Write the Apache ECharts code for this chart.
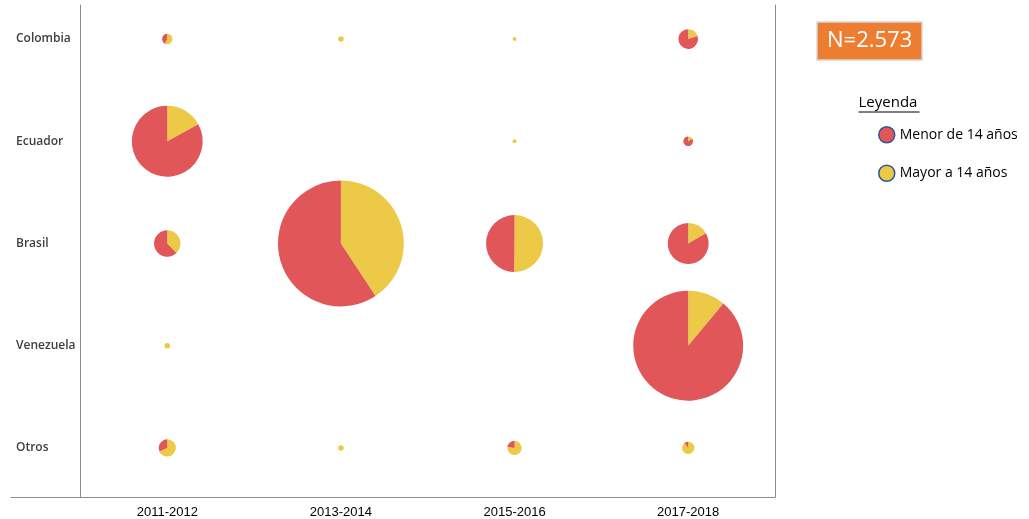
<!DOCTYPE html>
<html>
<head>
<meta charset="utf-8">
<script src="https://cdn.jsdelivr.net/npm/echarts@6/dist/echarts.min.js"></script>
<style>
  html, body { margin: 0; padding: 0; background: #fff; }
  #chart { width: 1029px; height: 519px; }
</style>
</head>
<body>
<div id="chart"></div>
<script>
// Columnas (periodos) y filas (países)
const periods = ['2011-2012', '2013-2014', '2015-2016', '2017-2018'];
const countries = ['Colombia', 'Ecuador', 'Brasil', 'Venezuela', 'Otros'];
// filas = países, columnas = periodos
const menor14 = [
    [3, 0, 0, 20],
    [269, 0, 0, 5],
    [28, 605, 104, 90],
    [0, 0, 0, 692],
    [6, 0, 3, 1]
];
const mayor14 = [
    [4, 2, 1, 5],
    [55, 0, 1, 1],
    [17, 416, 105, 18],
    [2, 0, 0, 86],
    [13, 2, 10, 9]
];
const seriesNames = ['Menor de 14 años', 'Mayor a 14 años'];
const totalLabel = 'N=2.573';

const RED = '#E15759', YELLOW = '#EDC948', AXIS = '#8c8c8c';

const chart = echarts.init(document.getElementById('chart'));

chart.setOption({
    animation: false,
    title: [{
        text: totalLabel, left: 817, top: 22,
        backgroundColor: '#ED7D31', borderColor: '#d6d6d6', borderWidth: 1.5,
        padding: [6, 10],
        textStyle: { color: '#fff', fontSize: 22, lineHeight: 26, fontWeight: 'normal', fontFamily: 'Open Sans' }
    }],
    legend: {
        data: seriesNames, orient: 'vertical', left: 873, top: 121,
        icon: 'circle', itemWidth: 16, itemHeight: 16, itemGap: 21,
        itemStyle: { borderColor: '#2F5597', borderWidth: 1.5 },
        textStyle: { fontSize: 14, color: '#000', fontFamily: 'Open Sans' }
    },
    graphic: [{
        type: 'group', left: 856, top: 95,
        children: [
            { type: 'text', style: { text: 'Leyenda', x: 0, y: 0, fontSize: 15, fontFamily: 'Open Sans', fill: '#000' } },
            { type: 'line', shape: { x1: 0, y1: 17, x2: 61, y2: 17 }, style: { stroke: '#000', lineWidth: 1 } }
        ]
    }],
    grid: { left: 11, right: 254, top: 5, bottom: 22, containLabel: false, outerBoundsMode: 'none' },
    xAxis: {
        type: 'value', min: -0.4, max: 4,
        axisLine: { show: true, onZero: false, lineStyle: { color: AXIS, width: 1 } },
        axisTick: { show: false }, splitLine: { show: false },
        axisLabel: {
            customValues: [0.5, 1.5, 2.5, 3.5],
            formatter: v => periods[Math.floor(v)],
            color: '#000', fontSize: 13, fontFamily: 'Liberation Sans', margin: 9
        }
    },
    yAxis: [{
        type: 'value', inverse: true, min: -0.333, max: 4.48, position: 'left',
        axisLine: { show: true, onZero: true, lineStyle: { color: AXIS, width: 1 } },
        axisTick: { show: false }, splitLine: { show: false },
        axisLabel: {
            customValues: [0, 1, 2, 3, 4],
            formatter: v => countries[v],
            inside: true, margin: 5, padding: [4, 0, 0, 0],
            color: '#404040', fontSize: 12, fontWeight: 600, fontFamily: 'Open Sans'
        }
    }, {
        type: 'value', inverse: true, min: -0.333, max: 4.48, position: 'right',
        axisLine: { show: true, onZero: false, lineStyle: { color: AXIS, width: 1 } },
        axisTick: { show: false }, splitLine: { show: false }, axisLabel: { show: false }
    }]
});

// un pastel por celda, radio proporcional a la raíz del total
const pies = [];
countries.forEach((c, i) => {
    periods.forEach((p, j) => {
        const total = menor14[i][j] + mayor14[i][j];
        if (!total) return;
        const center = chart.convertToPixel({ gridIndex: 0 }, [j + 0.5, i]);
        pies.push({
            name: c + ' ' + p, type: 'pie',
            center, radius: 1.97 * Math.sqrt(total),
            startAngle: 90, clockwise: true,
            label: { show: false }, labelLine: { show: false },
            emphasis: { disabled: true },
            itemStyle: { borderWidth: 0 },
            data: [
                { name: seriesNames[1], value: mayor14[i][j], itemStyle: { color: YELLOW } },
                { name: seriesNames[0], value: menor14[i][j], itemStyle: { color: RED } }
            ]
        });
    });
});

chart.setOption({ series: pies });
</script>
</body>
</html>
